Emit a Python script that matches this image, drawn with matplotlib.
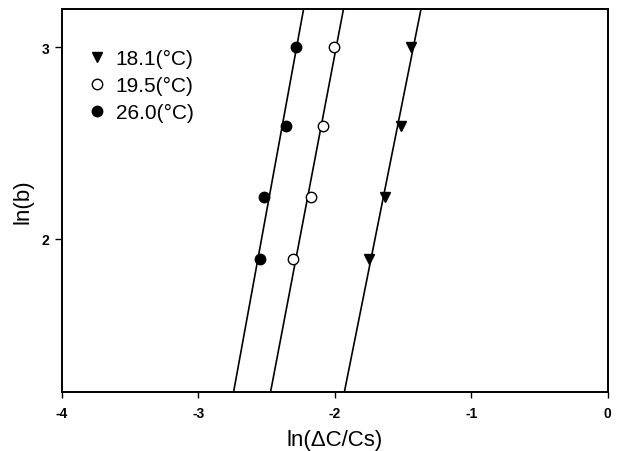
import numpy as np
import matplotlib
matplotlib.use("Agg")
import matplotlib.pyplot as plt

plt.rcParams['font.family'] = ['Liberation Sans', 'DejaVu Sans']

# ln(b) values (same set for each temperature)
ln_b = [3.0, 2.59, 2.22, 1.895]

# ln(dC/Cs) for each temperature
x_181 = [-1.443, -1.516, -1.634, -1.751]
x_195 = [-2.005, -2.086, -2.178, -2.305]
x_260 = [-2.286, -2.359, -2.518, -2.547]

labels = ["18.1(\u00b0C)", "19.5(\u00b0C)", "26.0(\u00b0C)"]

fig = plt.figure(figsize=(6.19, 4.52), dpi=100)
ax = fig.add_axes([0.100, 0.131, 0.882, 0.847])

y_line = np.array([1.2, 3.2])
series = [
    (x_181, 'v', 'black', labels[0]),
    (x_195, 'o', 'white', labels[1]),
    (x_260, 'o', 'black', labels[2]),
]
for xs, mk, fc, lab in series:
    # fitted straight line through the points
    k, c = np.polyfit(ln_b, xs, 1)
    ax.plot(k * y_line + c, y_line, color='black', lw=1.2, zorder=2)
    ax.plot(xs, ln_b, linestyle='none', marker=mk, markersize=7.5,
            markerfacecolor=fc, markeredgecolor='black', markeredgewidth=1.0,
            label=lab, zorder=3)

ax.set_xlim(-4, 0)
ax.set_ylim(1.2, 3.2)
ax.set_xticks([-4, -3, -2, -1, 0])
ax.set_yticks([2, 3])
ax.set_xticklabels(['-4', '-3', '-2', '-1', '0'], fontweight='bold', fontsize=10)
ax.set_yticklabels(['2', '3'], fontweight='bold', fontsize=10)
ax.tick_params(axis='x', direction='out', length=4, width=1.0, pad=6)
ax.tick_params(axis='y', direction='out', length=5, width=1.0, pad=4)

for s in ax.spines.values():
    s.set_linewidth(1.4)

ax.set_xlabel("ln(\u0394C/Cs)", fontsize=16, labelpad=7)
ax.set_ylabel("ln(b)", fontsize=16, labelpad=6)

ax.legend(loc='upper left', bbox_to_anchor=(0.0335, 0.917), frameon=False,
          fontsize=15, handlelength=0.8, handletextpad=0.5, labelspacing=0.38,
          borderaxespad=0)

fig.savefig("out.png", dpi=100)
